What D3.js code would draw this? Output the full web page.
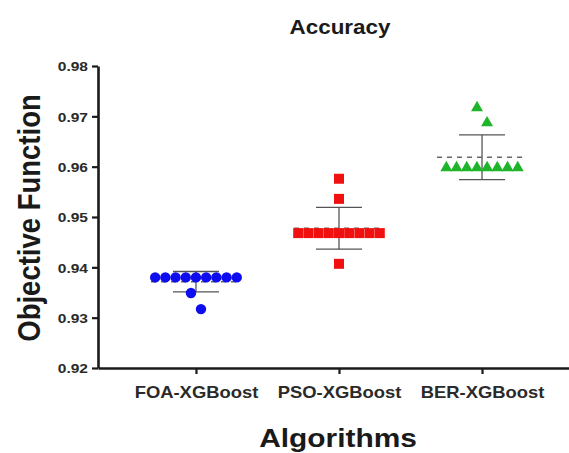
<!DOCTYPE html>
<html>
<head>
<meta charset="utf-8">
<script src="https://cdn.jsdelivr.net/npm/d3@7"></script>
<style>
  body { margin: 0; background: #fff; }
  svg { display: block; }
  text { font-family: "Liberation Sans", Arial, sans-serif; font-weight: bold; }
</style>
</head>
<body>
<svg width="569" height="453"></svg>
<script>
// values
const algorithms = ["FOA-XGBoost", "PSO-XGBoost", "BER-XGBoost"];
const foaValues = [0.9380, 0.9380, 0.9380, 0.9380, 0.9380, 0.9380, 0.9380, 0.9380, 0.9380, 0.9349, 0.9317];
const psoValues = [0.9576, 0.9536, 0.9468, 0.9468, 0.9468, 0.9468, 0.9468, 0.9468, 0.9468, 0.9468, 0.9468, 0.9407];
const berValues = [0.9717, 0.9687, 0.9598, 0.9598, 0.9598, 0.9598, 0.9598, 0.9598, 0.9598, 0.9598];
const yTicks = [0.92, 0.93, 0.94, 0.95, 0.96, 0.97, 0.98];
const colors = ["#0d0df0", "#f01010", "#1fb52a"];
const shapes = [d3.symbolCircle, d3.symbolSquare, d3.symbolTriangle];
const shapeSizes = [85, 100, 62];

const series = [foaValues, psoValues, berValues];

const sv = d3.select("svg");
const stretch = 1.15; // text in the figure is a little wider than tall

const y = d3.scaleLinear().domain([0.92, 0.98]).range([368, 66]);
const x = d3.scalePoint().domain(algorithms).range([98, 580]).padding(0.685);

// y axis
const ya = sv.append("g")
    .attr("transform", "translate(98,0)")
    .call(d3.axisLeft(y).tickValues(yTicks).tickFormat(d3.format(".2f")).tickSize(6).tickSizeOuter(0));
ya.select(".domain").attr("stroke", "#1a1a1a").attr("stroke-width", 2.6);
ya.selectAll(".tick line").attr("stroke", "#1a1a1a").attr("stroke-width", 2.2);
ya.selectAll(".tick text")
    .attr("x", null).attr("dy", "0.35em")
    .attr("transform", "translate(-10,0) scale(" + stretch + ",1)")
    .attr("font-size", 13.5).attr("fill", "#2a2a2a");

// x axis
const xa = sv.append("g")
    .attr("transform", "translate(0,368)")
    .call(d3.axisBottom(x).tickSize(6).tickSizeOuter(0));
xa.select(".domain").attr("stroke", "#1a1a1a").attr("stroke-width", 2.6);
xa.selectAll(".tick line").attr("stroke", "#1a1a1a").attr("stroke-width", 2.2);
xa.selectAll(".tick text")
    .attr("y", null).attr("dy", null)
    .attr("transform", "translate(0,30) scale(" + stretch + ",1)")
    .attr("font-size", 16).attr("fill", "#2a2a2a");

// titles
sv.append("text")
    .attr("transform", "translate(340,34) scale(" + stretch + ",1)")
    .attr("text-anchor", "middle").attr("font-size", 19.5).attr("fill", "#1a1a1a")
    .text("Accuracy");
sv.append("text")
    .attr("transform", "translate(338,447) scale(" + stretch + ",1)")
    .attr("text-anchor", "middle").attr("font-size", 26).attr("fill", "#1a1a1a")
    .text("Algorithms");
sv.append("text")
    .attr("transform", "translate(40,218) scale(" + stretch + ",1) rotate(-90)")
    .attr("text-anchor", "middle").attr("font-size", 27.5).attr("fill", "#1a1a1a")
    .text("Objective Function");

// spread tied values sideways, nudge close singles apart
function layout(vals) {
    const counts = d3.rollup(vals, v => v.length, d => d);
    const seen = new Map();
    const pts = vals.map(function (v) {
        const n = counts.get(v);
        const i = seen.get(v) || 0;
        seen.set(v, i + 1);
        return { v: v, dx: n > 1 ? (i - (n - 1) / 2) * 10.2 : 0, single: n === 1 };
    });
    const singles = pts.filter(p => p.single).sort((a, b) => b.v - a.v);
    for (let i = 1; i < singles.length; i++) {
        if (Math.abs(y(singles[i].v) - y(singles[i - 1].v)) < 18) {
            singles[i - 1].dx = -5;
            singles[i].dx = 5;
        }
    }
    return pts;
}

series.forEach(function (vals, k) {
    const cx = x(algorithms[k]);
    const m = d3.mean(vals);
    const sd = d3.deviation(vals);
    const g = sv.append("g");

    // whisker + caps
    g.append("line")
        .attr("x1", cx).attr("x2", cx)
        .attr("y1", y(m + sd)).attr("y2", y(m - sd))
        .attr("stroke", "#555").attr("stroke-width", 1.3);
    [m + sd, m - sd].forEach(function (v) {
        g.append("line")
            .attr("x1", cx - 23).attr("x2", cx + 23)
            .attr("y1", y(v)).attr("y2", y(v))
            .attr("stroke", "#555").attr("stroke-width", 1.3);
    });
    // mean
    g.append("line")
        .attr("x1", cx - 45).attr("x2", cx + 45)
        .attr("y1", y(m)).attr("y2", y(m))
        .attr("stroke", "#666").attr("stroke-width", 1.4)
        .attr("stroke-dasharray", "5,5");

    g.selectAll("path.pt")
        .data(layout(vals))
        .enter()
        .append("path")
        .attr("class", "pt")
        .attr("d", d3.symbol().type(shapes[k]).size(shapeSizes[k]))
        .attr("transform", function (d) { return "translate(" + (cx + d.dx) + "," + y(d.v) + ")"; })
        .attr("fill", colors[k]);
});
</script>
</body>
</html>
